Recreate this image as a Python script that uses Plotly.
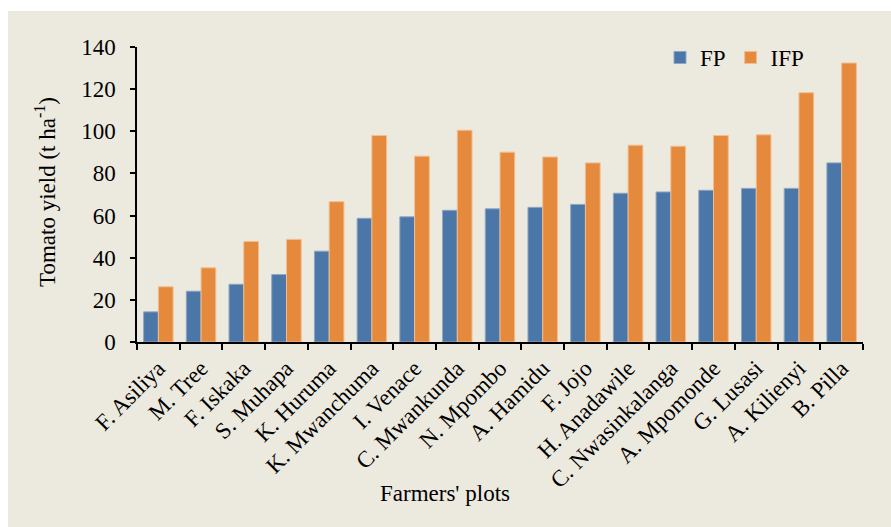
import plotly.graph_objects as go

# Farmers' plots and tomato yields (t/ha)
plots = ["F. Asiliya", "M. Tree", "F. Iskaka", "S. Muhapa", "K. Huruma",
         "K. Mwanchuma", "I. Venace", "C. Mwankunda", "N. Mpombo", "A. Hamidu",
         "F. Jojo", "H. Anadawile", "C. Nwasinkalanga", "A. Mpomonde",
         "G. Lusasi", "A. Kilienyi", "B. Pilla"]
fp = [14.3, 24.1, 27.4, 32.0, 43.1, 58.7, 59.4, 62.5, 63.2, 63.9,
      65.3, 70.6, 71.2, 72.0, 72.9, 72.9, 85.0]
ifp = [26.2, 35.2, 47.7, 48.7, 66.6, 98.0, 88.2, 100.5, 90.1, 87.8,
       85.0, 93.4, 92.9, 98.0, 98.3, 118.3, 132.4]
y_ticks = [0, 20, 40, 60, 80, 100, 120, 140]

FONT = "Liberation Serif, Times New Roman, serif"
FS = 23
BG = "#ECE9DF"
BLUE = "#4A76A8"
ORANGE = "#E5893C"

W, H = 891, 527
ML, MR, MT, MB = 137, 28, 47, 185
pw, ph = W - ML - MR, H - MT - MB


def px_x(p):
    return (p - ML) / pw


def px_y(p):
    return (H - MB - p) / ph


fig = go.Figure()
fig.add_trace(go.Bar(x=plots, y=fp, name="FP",
                     marker=dict(color=BLUE, line=dict(color="#8DA6C3", width=1))))
fig.add_trace(go.Bar(x=plots, y=ifp, name="IFP",
                     marker=dict(color=ORANGE, line=dict(color="#F2BE90", width=1))))

# beige panel behind the chart
fig.add_shape(type="rect", xref="paper", yref="paper",
              x0=px_x(8), x1=px_x(W + 2), y0=px_y(H + 2), y1=px_y(11),
              fillcolor=BG, line=dict(width=0), layer="below")

fig.add_annotation(text="Farmers' plots", xref="paper", yref="paper",
                   x=px_x(445), y=px_y(493), xanchor="center", yanchor="middle",
                   showarrow=False,
                   font=dict(family=FONT, size=FS, color="black"))
fig.add_annotation(text="Tomato yield (t ha<sup>-1</sup>)", xref="paper", yref="paper",
                   x=px_x(45), y=px_y(192), xanchor="center", yanchor="middle",
                   showarrow=False, textangle=-90,
                   font=dict(family=FONT, size=FS, color="black"))

fig.update_layout(
    width=W, height=H,
    margin=dict(l=ML, r=MR, t=MT, b=MB),
    paper_bgcolor="white", plot_bgcolor="rgba(0,0,0,0)",
    barmode="group", bargap=0.31, bargroupgap=0,
    font=dict(family=FONT, size=FS, color="black"),
    legend=dict(orientation="h", x=px_x(660), y=px_y(36),
                xanchor="left", yanchor="top",
                bgcolor="rgba(0,0,0,0)", font=dict(family=FONT, size=FS),
                itemwidth=30),
    xaxis=dict(showline=True, linecolor="black", linewidth=1.5,
               ticks="outside", ticklen=6, tickwidth=1.5, tickcolor="black",
               tickson="boundaries", tickangle=-45, showgrid=False,
               ticklabelstandoff=2,
               tickfont=dict(family=FONT, size=FS)),
    yaxis=dict(range=[0, 140], tickvals=y_ticks, showline=True,
               linecolor="black", linewidth=1.5, ticks="outside", ticklen=5,
               tickwidth=1.5, tickcolor="black", showgrid=False, zeroline=False,
               ticklabelstandoff=10,
               tickfont=dict(family=FONT, size=FS)),
)

fig.write_html("out.html")
